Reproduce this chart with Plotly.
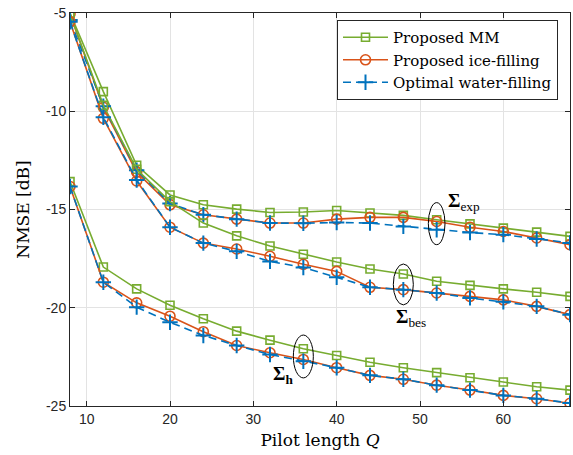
import plotly.graph_objects as go

Q = [8, 12, 16, 20, 24, 28, 32, 36, 40, 44, 48, 52, 56, 60, 64, 68]

# Sigma_exp group
mm_exp = [-5.0, -9.0, -12.75, -14.26, -14.76, -14.98, -15.15, -15.13, -15.05, -15.18, -15.3, -15.52, -15.73, -15.95, -16.15, -16.37]
ice_exp = [-5.05, -9.8, -13.1, -14.76, -15.27, -15.49, -15.69, -15.69, -15.49, -15.4, -15.4, -15.61, -15.9, -16.12, -16.45, -16.79]
wf_exp = [-5.35, -9.74, -13.0, -14.7, -15.27, -15.49, -15.69, -15.7, -15.66, -15.69, -15.86, -16.03, -16.17, -16.28, -16.5, -16.7]

# Sigma_bes group
mm_bes = [-5.05, -9.7, -12.95, -14.6, -15.69, -16.34, -16.86, -17.28, -17.67, -18.03, -18.28, -18.65, -18.86, -19.04, -19.21, -19.42]
ice_bes = [-5.45, -10.36, -13.55, -15.9, -16.71, -17.01, -17.38, -17.79, -18.15, -18.96, -19.08, -19.25, -19.42, -19.6, -19.93, -20.35]
wf_bes = [-5.45, -10.31, -13.5, -15.9, -16.71, -17.13, -17.64, -17.95, -18.45, -18.96, -19.08, -19.25, -19.5, -19.7, -19.93, -20.35]

# Sigma_h group
mm_h = [-13.58, -17.93, -19.04, -19.87, -20.56, -21.19, -21.65, -22.09, -22.43, -22.77, -23.05, -23.3, -23.56, -23.78, -24.02, -24.19]
ice_h = [-13.83, -18.7, -19.75, -20.43, -21.22, -21.92, -22.29, -22.63, -23.05, -23.44, -23.64, -23.94, -24.19, -24.46, -24.63, -24.86]
wf_h = [-13.83, -18.7, -19.97, -20.74, -21.41, -21.92, -22.38, -22.72, -23.05, -23.44, -23.64, -23.94, -24.19, -24.46, -24.63, -24.85]

x_ticks = [10, 20, 30, 40, 50, 60]
y_ticks = [-5, -10, -15, -20, -25]

GREEN = "#77AC30"
ORANGE = "#D95319"
BLUE = "#0072BD"
SERIF = "DejaVu Serif, Liberation Serif, serif"
SERIF2 = "Liberation Serif, DejaVu Serif, serif"
SANS = "Liberation Sans, Arial, sans-serif"

fig = go.Figure()

groups = [
    (mm_exp, ice_exp, wf_exp),
    (mm_bes, ice_bes, wf_bes),
    (mm_h, ice_h, wf_h),
]

for gi, (mm, ice, wf) in enumerate(groups):
    show = gi == 0
    fig.add_trace(go.Scatter(
        x=Q, y=mm, mode="lines+markers", name="Proposed MM",
        legendgroup="mm", showlegend=show,
        line=dict(color=GREEN, width=1.6),
        marker=dict(symbol="square-open", size=8, color=GREEN, line=dict(width=1.6)),
    ))
    fig.add_trace(go.Scatter(
        x=Q, y=ice, mode="lines+markers", name="Proposed ice-filling",
        legendgroup="ice", showlegend=show,
        line=dict(color=ORANGE, width=1.6),
        marker=dict(symbol="circle-open", size=10, color=ORANGE, line=dict(width=1.6)),
    ))
    fig.add_trace(go.Scatter(
        x=Q, y=wf, mode="lines+markers", name="Optimal water-filling",
        legendgroup="wf", showlegend=show,
        line=dict(color=BLUE, width=1.6, dash="8px,5px"),
        marker=dict(symbol="cross-thin-open", size=11, color=BLUE, line=dict(width=2.0, color=BLUE)),
    ))

# Ellipse annotations around one marker column of each group
ellipses = [(52, groups[0], 1.0, 1.07), (48, groups[1], 1.2, 1.04), (36, groups[2], 1.2, 1.09)]
for xq, grp, rx, ry in ellipses:
    i = Q.index(xq)
    yc = sum(s[i] for s in grp) / 3.0
    fig.add_shape(type="circle", xref="x", yref="y",
                  x0=xq - rx, x1=xq + rx, y0=yc - ry, y1=yc + ry,
                  line=dict(color="black", width=1))

labels = [
    (55.3, -14.6, "<b>Σ</b><sub>exp</sub>"),
    (48.9, -20.5, "<b>Σ</b><sub>bes</sub>"),
    (33.6, -23.4, "<b>Σ</b><sub><b>h</b></sub>"),
]
for lx, ly, txt in labels:
    fig.add_annotation(x=lx, y=ly, xref="x", yref="y", text=txt, showarrow=False,
                       font=dict(family=SERIF2, size=19, color="black"))

fig.update_layout(
    width=573, height=455,
    margin=dict(l=70, r=3, t=13, b=49),
    paper_bgcolor="white", plot_bgcolor="white",
    showlegend=True,
    legend=dict(
        x=0.976, y=0.982, xanchor="right", yanchor="top",
        bgcolor="white", bordercolor="#262626", borderwidth=1,
        font=dict(family=SERIF, size=15, color="black"),
        itemwidth=45, tracegroupgap=0,
    ),
)

fig.update_xaxes(
    range=[8, 68], tickvals=x_ticks, ticktext=[str(v) for v in x_ticks],
    showgrid=True, gridcolor="#e3e3e3", gridwidth=1,
    showline=True, linecolor="#262626", linewidth=1, mirror="ticks",
    ticks="inside", ticklen=5, tickcolor="#262626",
    tickfont=dict(family=SANS, size=14, color="#262626"),
    zeroline=False,
    title=dict(text="Pilot length <i>Q</i>", font=dict(family=SERIF, size=17, color="black"), standoff=8),
)
fig.update_yaxes(
    range=[-25, -5], tickvals=y_ticks, ticktext=[str(v) for v in y_ticks],
    showgrid=True, gridcolor="#e3e3e3", gridwidth=1,
    showline=True, linecolor="#262626", linewidth=1, mirror="ticks",
    ticks="inside", ticklen=5, tickcolor="#262626",
    tickfont=dict(family=SANS, size=14, color="#262626"),
    zeroline=False,
    title=dict(text="NMSE [dB]", font=dict(family=SERIF, size=17, color="black"), standoff=12),
)

fig.write_html("out.html")
